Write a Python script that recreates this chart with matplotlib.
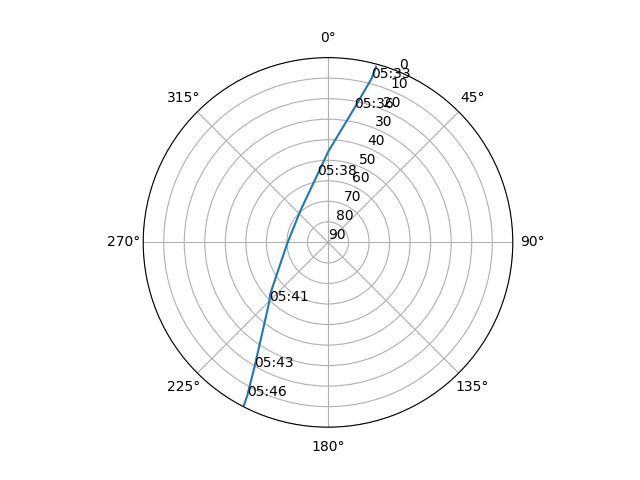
import numpy as np
import matplotlib
matplotlib.use("Agg")
import matplotlib.pyplot as plt

# Satellite pass track: azimuth (deg) and elevation (deg)
track_az = [15.3, 14.9, 11.1, 0.2, 351.0, 317.9, 266.8, 228.0, 224.8, 210.5, 207.8, 207.3]
track_el = [1.3, 7.4, 23.4, 45.7, 56.7, 69.7, 69.9, 52.0, 49.5, 19.4, 5.7, 0.8]

# Time labels along the pass
label_times = ["05:33", "05:36", "05:38", "05:41", "05:43", "05:46"]
label_az = [14.9, 11.1, 351.0, 224.8, 210.5, 207.8]
label_el = [7.4, 23.4, 56.7, 49.5, 19.4, 5.7]

r_ticks = list(range(0, 91, 10))

fig = plt.figure(figsize=(6.4, 4.8), dpi=100)
ax = fig.add_subplot(111, projection="polar")
ax.set_theta_zero_location("N")
ax.set_theta_direction(-1)

theta = np.unwrap(np.radians(track_az))
ax.plot(theta, track_el)

for t, az, el in zip(label_times, label_az, label_el):
    ax.text(np.radians(az), el, t)

ax.set_ylim(90, 0)
ax.set_yticks(r_ticks)
ax.grid(True)

fig.savefig("out.png", dpi=100)
